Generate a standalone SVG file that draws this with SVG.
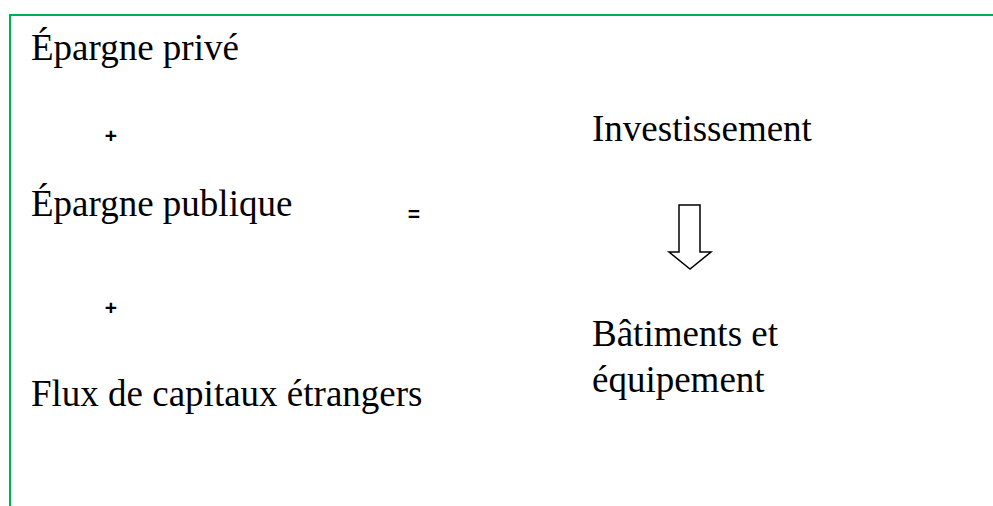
<svg xmlns="http://www.w3.org/2000/svg" width="993" height="506" viewBox="0 0 993 506">
<style>
.t{font-family:"Liberation Serif","Times New Roman",serif;font-size:37px;fill:#000}
.s{font-family:"Liberation Sans",Arial,sans-serif;font-size:21px;font-weight:bold;fill:#000;text-anchor:middle}
.b{stroke:#00B050;stroke-width:2;fill:none}
</style>
<rect width="993" height="506" fill="#fff"/>
<g id="frame">
<path class="b" d="M10 506 V15 H993"/>
</g>
<g id="epargne-prive"><text class="t" x="31" y="60">Épargne privé</text></g>
<g id="plus1"><text class="s" x="111" y="142.5">+</text></g>
<g id="epargne-publique"><text class="t" x="31" y="216">Épargne publique</text></g>
<g id="egal"><text class="s" x="414" y="221">=</text></g>
<g id="plus2"><text class="s" x="111" y="314.5">+</text></g>
<g id="flux"><text class="t" x="31" y="406">Flux de capitaux étrangers</text></g>
<g id="investissement"><text class="t" x="592" y="141">Investissement</text></g>
<g id="batiments"><text class="t" x="592" y="346">Bâtiments et</text><text class="t" x="592" y="392">équipement</text></g>
<g id="connectors">
<polygon points="679,205 700,205 700,252 711,252 690,269 669,252 679,252" fill="#fff" stroke="#000" stroke-width="1.5"/>
</g>
</svg>
